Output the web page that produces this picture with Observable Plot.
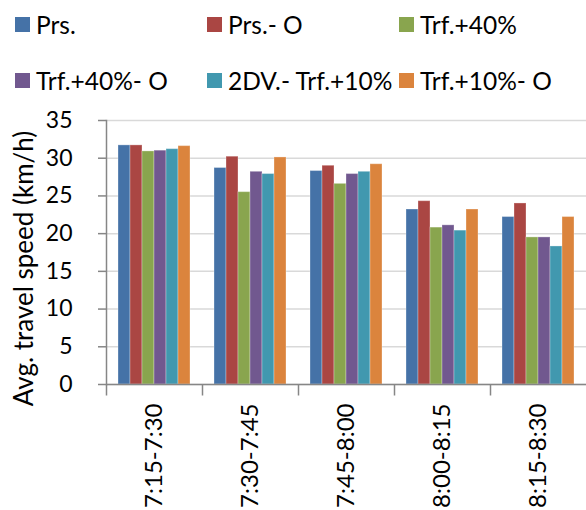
<!DOCTYPE html>
<html>
<head>
<meta charset="utf-8">
<script src="https://cdn.jsdelivr.net/npm/d3@7"></script>
<script src="https://cdn.jsdelivr.net/npm/@observablehq/plot@0.6"></script>
<style>
  body { margin: 0; background: #fff; }
  #wrap { position: relative; width: 586px; height: 510px; font-family: Lato, sans-serif; color: #000; overflow: hidden; }
  #legend { position: absolute; left: 0; top: 0; width: 586px; height: 100px; }
  .item { position: absolute; display: flex; align-items: center; font-size: 24.5px; white-space: nowrap; height: 30px; }
  .sw { width: 15px; height: 15px; margin-right: 6px; flex: none; }
  #chart { position: absolute; left: 0; top: 100px; }
</style>
</head>
<body>
<div id="wrap"><div id="legend"></div><div id="chart"></div></div>
<script>
const groups = ["7:15-7:30", "7:30-7:45", "7:45-8:00", "8:00-8:15", "8:15-8:30"];
const series = ["Prs.", "Prs.- O", "Trf.+40%", "Trf.+40%- O", "2DV.- Trf.+10%", "Trf.+10%- O"];
const prs     = [31.7, 28.7, 28.3, 23.2, 22.2];
const prsO    = [31.7, 30.2, 29.0, 24.3, 24.0];
const trf40   = [30.9, 25.5, 26.6, 20.8, 19.5];
const trf40O  = [31.0, 28.2, 27.9, 21.1, 19.5];
const dv2     = [31.2, 27.9, 28.2, 20.4, 18.3];
const trf10O  = [31.6, 30.1, 29.2, 23.2, 22.2];
const colors = ["#4572A7", "#AA4643", "#89A54E", "#71588F", "#4198AF", "#DB843D"];
const yTicks = [0, 5, 10, 15, 20, 25, 30, 35];
const yLabel = "Avg. travel speed (km/h)";

const values = [prs, prsO, trf40, trf40O, dv2, trf10O];
const rows = groups.flatMap((g, i) => series.map((s, j) => ({group: g, series: s, value: values[j][i]})));

// legend
const legend = document.getElementById("legend");
series.forEach((s, j) => {
  const col = j % 3, row = Math.floor(j / 3);
  const it = document.createElement("div");
  it.className = "item";
  it.style.left = (15 + col * 192) + "px";
  it.style.top = (9 + row * 56) + "px";
  const sw = document.createElement("span");
  sw.className = "sw";
  sw.style.background = colors[j];
  it.appendChild(sw);
  it.appendChild(document.createTextNode(s));
  legend.appendChild(it);
});

const tickSymbol = {draw(ctx, size) { ctx.moveTo(0, 0); ctx.lineTo(0, 11); }};
const axisColor = "#868686";

const chart = Plot.plot({
  width: 586,
  height: 410,
  marginTop: 20,
  marginBottom: 126,
  marginLeft: 106,
  marginRight: 0,
  style: {fontFamily: "Lato, sans-serif", fontSize: "23px", color: "#000", background: "#fff"},
  fx: {domain: groups, padding: 0, label: null},
  x: {domain: series, paddingInner: 0, paddingOuter: 0.74, axis: null},
  y: {domain: [0, 35], label: null},
  color: {domain: series, range: colors},
  marks: [
    Plot.gridY(yTicks, {stroke: "#d9d9d9", strokeOpacity: 1, strokeWidth: 1.5}),
    Plot.barY(rows, {fx: "group", x: "series", y: "value", fill: "series", stroke: "white", strokeOpacity: 0.3, strokeWidth: 1}),
    Plot.ruleY([0], {stroke: axisColor, strokeWidth: 1.5}),
    Plot.frame({anchor: "left", facetAnchor: "left", stroke: axisColor, strokeWidth: 1.5}),
    Plot.dot([0], {frameAnchor: "bottom-left", symbol: tickSymbol, stroke: axisColor, strokeWidth: 1.5, fill: "none"}),
    Plot.axisY(yTicks, {tickSize: 8, tickPadding: 26, stroke: axisColor, strokeWidth: 1.5, label: null, fill: "#000", fontSize: 23}),
    Plot.axisFx({anchor: "bottom", tickRotate: -90, tickSize: 0, tickPadding: 19, label: null, fill: "#000", fontSize: 24}),
    Plot.text([yLabel], {frameAnchor: "left", facetAnchor: "left", rotate: -90, dx: -92, dy: 16, textAnchor: "middle", lineAnchor: "top", fontSize: 26, fill: "#000"})
  ]
});
document.getElementById("chart").appendChild(chart);
</script>
</body>
</html>
